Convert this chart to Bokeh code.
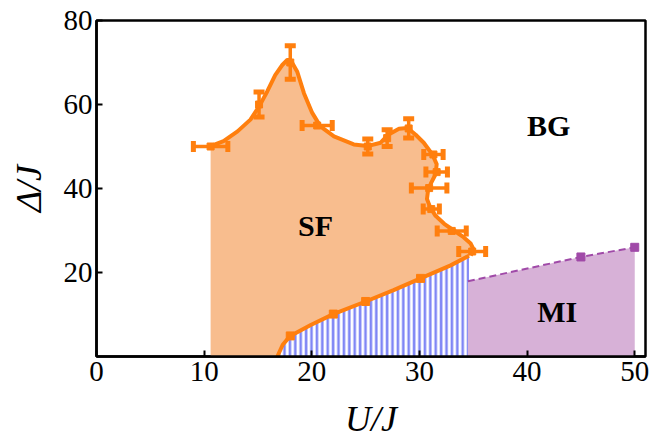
import math
from bokeh.plotting import figure
from bokeh.models import ColumnDataSource, Range1d, FixedTicker
from bokeh.embed import file_html
from bokeh.resources import INLINE
from bokeh.core.properties import value

# ---- data ----
# SF/BG boundary: error-bar points
U_pts = [10.6, 15.1, 18.0, 20.5, 25.2, 27.0, 29.0, 31.3, 31.6, 30.9, 31.1, 33.0, 34.9]
D_pts = [50.0, 60.0, 70.0, 55.0, 50.0, 52.0, 54.3, 48.1, 43.9, 40.1, 35.1, 29.9, 25.0]
dU = [1.6, 0, 0, 1.4, 0, 0, 0, 0.9, 1.0, 1.65, 0.75, 1.35, 1.25]
dD = [0, 3.0, 4.0, 0, 1.8, 2.0, 2.3, 0, 0, 0, 0, 0, 0]

# SF upper boundary
U_upper = [10.6, 11.8, 13.1, 14.3, 15.1, 15.86, 16.6, 17.26, 17.72, 18.03, 18.65, 19.27,
           20.04, 20.8, 22.06, 23.9, 25.16, 26.4, 27.1, 28.1, 28.9, 29.65, 30.4, 31.2,
           31.6, 31.5, 31.1, 30.8, 30.7, 31.0, 31.5, 32.3, 33.2, 34.1, 34.76, 35.07, 34.76]
D_upper = [50.1, 51.3, 53.6, 56.4, 59.5, 63.1, 67.0, 69.4, 70.6, 70.6, 67.8, 62.7,
           58.0, 54.8, 52.4, 50.5, 50.1, 50.9, 52.8, 54.2, 54.4, 52.8, 50.9, 48.1,
           45.8, 43.4, 41.4, 39.5, 37.5, 35.5, 33.5, 31.6, 30.0, 28.4, 26.9, 25.3, 24.1]

# SF lower boundary (SF / hatched region), from right to left
U_lower = [34.6, 32.9, 30.1, 27.6, 25.0, 22.0, 19.9, 18.0, 17.3, 16.8]
D_lower = [24.0, 21.7, 18.6, 15.8, 13.1, 10.1, 7.5, 4.9, 2.8, 0.0]
U_low_pts = [18.0, 22.0, 25.0, 30.1]
D_low_pts = [4.9, 10.1, 13.1, 18.6]

# MI boundary (dashed)
U_mi = [34.5, 45.0, 50.0]
D_mi = [17.9, 23.7, 26.0]
U_mi_pts = [45.0, 50.0]
D_mi_pts = [23.7, 26.0]

x_ticks = [0, 10, 20, 30, 40, 50]
y_ticks = [20, 40, 60, 80]

ORANGE = "#ff7f0e"
SF_FILL = "#f8bd8e"
MI_FILL = "#d7b1d7"
PURPLE = "#a04aa8"
HATCH = "#7f86f5"
FONT = "Liberation Serif"

p = figure(width=649, height=441, output_backend="svg", toolbar_location=None,
           x_range=Range1d(0, 51), y_range=Range1d(0, 80),
           min_border_left=96, min_border_right=4, min_border_top=20, min_border_bottom=83)
p.grid.visible = False
p.outline_line_color = "black"
p.outline_line_width = 2.5
p.background_fill_color = "white"
p.border_fill_color = "white"

# SF region
sf_x = [U_upper[0]] + U_upper + U_lower + [U_upper[0]]
sf_y = [0.0] + D_upper + D_lower + [0.0]
p.patch(sf_x, sf_y, fill_color=SF_FILL, line_color=None)

# hatched region under lower boundary
h_x = U_lower + [U_lower[0]]
h_y = D_lower + [0.0]
p.patch(h_x, h_y, fill_color="white", line_color=None,
        hatch_pattern="vertical_line", hatch_color=HATCH, hatch_scale=5.4, hatch_weight=2.6)

# MI region
mi_x = [U_mi[0]] + U_mi + [U_mi[-1]]
mi_y = [0.0] + D_mi + [0.0]
p.patch(mi_x, mi_y, fill_color=MI_FILL, line_color=None)
p.line(U_mi, D_mi, line_color=PURPLE, line_width=2, line_dash="7 4")
p.scatter(U_mi_pts, D_mi_pts, marker="square", size=8, fill_color=PURPLE, line_color=PURPLE)

# boundary curves
p.line(U_upper, D_upper, line_color=ORANGE, line_width=4, line_join="round")
p.line(U_lower, D_lower, line_color=ORANGE, line_width=4, line_join="round")
p.scatter(U_low_pts, D_low_pts, marker="square", size=8, fill_color=ORANGE, line_color=ORANGE)

# error bars: bars + thick caps
hx0, hx1, hy = [], [], []
vx, vy0, vy1 = [], [], []
for u, d, eu, ed in zip(U_pts, D_pts, dU, dD):
    if eu > 0:
        hx0.append(u - eu); hx1.append(u + eu); hy.append(d)
    if ed > 0:
        vx.append(u); vy0.append(d - ed); vy1.append(d + ed)
p.segment(x0=hx0, y0=hy, x1=hx1, y1=hy, line_color=ORANGE, line_width=3.5)
p.segment(x0=vx, y0=vy0, x1=vx, y1=vy1, line_color=ORANGE, line_width=3.5)
p.scatter(hx0 + hx1, hy + hy, marker="dash", angle=math.pi / 2, size=11,
          line_color=ORANGE, line_width=5)
p.scatter(vx + vx, vy0 + vy1, marker="dash", size=11, line_color=ORANGE, line_width=5)
p.scatter(U_pts, D_pts, marker="square", size=7, fill_color=ORANGE, line_color=ORANGE)

# region labels
p.text(x=[20.35, 42.0, 42.8], y=[31.1, 55.0, 10.7], text=["SF", "BG", "MI"],
       text_font=value(FONT), text_font_style="bold", text_font_size="30px",
       text_align="center", text_baseline="middle", text_color="black")

# axes
for ax in (p.xaxis, p.yaxis):
    ax.axis_line_width = 2.5
    ax.axis_line_color = "black"
    ax.major_tick_in = 6
    ax.major_tick_out = 0
    ax.major_tick_line_width = 2
    ax.minor_tick_line_color = None
    ax.major_label_text_font = FONT
    ax.major_label_text_font_size = "29px"
    ax.major_label_text_color = "black"
    ax.axis_label_text_font = FONT
    ax.axis_label_text_font_style = "italic"
    ax.axis_label_text_font_size = "36px"
    ax.axis_label_text_color = "black"
p.xaxis.ticker = FixedTicker(ticks=x_ticks)
p.yaxis.ticker = FixedTicker(ticks=y_ticks)
p.xaxis.major_label_standoff = 5
p.yaxis.major_label_standoff = 4
p.xaxis.axis_label = "U/J"
p.yaxis.axis_label = "Δ/J"
p.xaxis.axis_label_standoff = 15
p.yaxis.axis_label_standoff = 12

open("out.html", "w").write(file_html(p, INLINE))
